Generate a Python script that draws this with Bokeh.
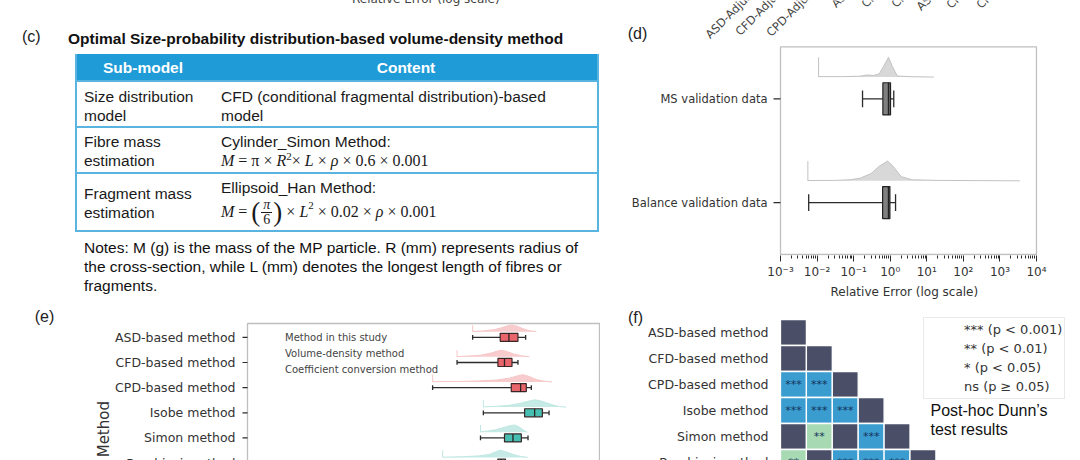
import math
from bokeh.plotting import figure
from bokeh.layouts import column, row
from bokeh.models import (Range1d, LogAxis, FixedTicker, Div, BoxAnnotation, Title,
                          CustomJSTickFormatter, Label, Legend, LegendItem)
from bokeh.core.properties import value
from bokeh.embed import file_html
from bokeh.resources import INLINE

SANS = "DejaVu Sans"
ARIAL = "Liberation Sans"
SERIF = "Liberation Serif"

# ---------------- (c) table ----------------
table_title = "Optimal Size-probability distribution-based volume-density method"
table_header = ["Sub-model", "Content"]
submodel_lines = [["Size distribution", "model"], ["Fibre mass", "estimation"],
                  ["Fragment mass", "estimation"]]
content_lines = [["CFD (conditional fragmental distribution)-based", "model"],
                 ["Cylinder_Simon Method:"], ["Ellipsoid_Han Method:"]]
note_lines = ["Notes: M (g) is the mass of the MP particle. R (mm) represents radius of",
              "the cross-section, while L (mm) denotes the longest length of fibres or",
              "fragments."]

# ---------------- (d) validation ----------------
d_groups = ["Balance validation data", "MS validation data"]
d_whisk_lo = [0.0059, 0.175]
d_q1 = [0.62, 0.63]
d_median = [0.90, 0.90]
d_q3 = [0.98, 1.02]
d_whisk_hi = [1.40, 1.25]
bal_kde_x = [0.0056, 0.03, 0.08, 0.15, 0.30, 0.50, 0.85, 1.20, 2.00, 4.00, 20.0, 3500.0]
bal_kde_h = [0.003, 0.004, 0.01, 0.025, 0.07, 0.14, 0.19, 0.14, 0.04, 0.01, 0.004, 0.0]
ms_kde_x = [0.011, 0.05, 0.15, 0.23, 0.35, 0.50, 0.65, 0.90, 1.15, 1.56, 4.0, 15.6]
ms_kde_h = [0.004, 0.004, 0.008, 0.02, 0.015, 0.03, 0.10, 0.19, 0.10, 0.01, 0.003, 0.0]
top_tick_labels = ["ASD-Adjusted", "CFD-Adjusted", "CPD-Adjusted",
                   "ASD-Simon", "CFD-Simon", "CPD-Simon",
                   "ASD-based", "CFD-based", "CPD-based"]

# ---------------- (e) methods ----------------
e_methods = ["ASD-based method", "CFD-based method", "CPD-based method",
             "Isobe method", "Simon method", "Barchiesi method"]
e_group = ["study", "study", "study", "volume", "volume", "volume"]
e_whisk_lo = [0.30, 0.147, 0.048, 0.49, 0.43, 0.076]
e_q1 = [1.06, 0.955, 1.76, 3.24, 1.29, 0.95]
e_median = [1.58, 1.29, 2.70, 5.13, 1.90, 1.10]
e_q3 = [2.39, 1.82, 3.50, 7.31, 2.79, 1.35]
e_whisk_hi = [3.40, 2.39, 4.41, 9.93, 3.79, 2.40]
asd_kde_x = [0.30, 0.50, 0.80, 1.10, 1.40, 1.76, 2.30, 3.00, 4.00, 5.55]
asd_kde_h = [0.01, 0.03, 0.08, 0.15, 0.22, 0.26, 0.22, 0.12, 0.04, 0.0]
cfd_kde_x = [0.147, 0.25, 0.45, 0.70, 0.90, 1.11, 1.40, 1.90, 2.80, 4.02]
cfd_kde_h = [0.01, 0.03, 0.07, 0.15, 0.22, 0.26, 0.22, 0.12, 0.04, 0.0]
cpd_kde_x = [0.048, 0.15, 0.40, 0.90, 1.60, 2.30, 3.00, 4.00, 5.50, 8.00, 11.4]
cpd_kde_h = [0.01, 0.02, 0.04, 0.08, 0.15, 0.24, 0.29, 0.22, 0.10, 0.03, 0.0]
isobe_kde_x = [0.49, 0.90, 1.60, 2.50, 3.60, 5.10, 6.50, 8.50, 12.0, 16.0, 22.0]
isobe_kde_h = [0.01, 0.03, 0.07, 0.14, 0.22, 0.29, 0.26, 0.18, 0.08, 0.02, 0.0]
simon_kde_x = [0.43, 0.60, 0.85, 1.15, 1.50, 2.05, 2.50, 3.00, 3.66]
simon_kde_h = [0.02, 0.05, 0.10, 0.17, 0.24, 0.29, 0.22, 0.10, 0.0]
barchiesi_kde_x = [0.076, 0.20, 0.40, 0.65, 0.85, 1.06, 1.40, 1.90, 2.70, 3.79]
barchiesi_kde_h = [0.01, 0.03, 0.06, 0.12, 0.22, 0.29, 0.22, 0.12, 0.04, 0.0]
e_kde_x = [asd_kde_x, cfd_kde_x, cpd_kde_x, isobe_kde_x, simon_kde_x, barchiesi_kde_x]
e_kde_h = [asd_kde_h, cfd_kde_h, cpd_kde_h, isobe_kde_h, simon_kde_h, barchiesi_kde_h]
e_legend = ["Method in this study", "Volume-density method", "Coefficient conversion method"]

# ---------------- (f) Dunn's test ----------------
dunn_sig = [
    ["ns"],
    ["ns", "ns"],
    ["***", "***", "ns"],
    ["***", "***", "***", "ns"],
    ["ns", "**", "ns", "***", "ns"],
    ["**", "ns", "***", "***", "***", "ns"],
]
sig_levels = ["***", "**", "*", "ns"]
sig_labels = ["*** (p < 0.001)", "** (p < 0.01)", "* (p < 0.05)", "ns (p \u2265 0.05)"]

# colours
HEAD_BLUE = "#1f9bd7"
LINE_BLUE = "#5ab4e0"
BOX_FILL = {"study": "#e8656b", "volume": "#46beb1"}
KDE_FILL = {"study": "#f7c7c8", "volume": "#c0e8e2"}
LEG_COLORS = ["#e8656b", "#46beb1", "#f6cc6b"]
SIG_COLORS = {"***": "#3b9cd0", "**": "#a7dab3", "*": "#daefdb", "ns": "#4a4f67"}
INK = "#333333"
EDGE = "#2b2b2b"

PAGE_W, PAGE_H = 1080, 460
LEFT_W, TOP_H = 600, 300


def frame_label(p, origin, x, y, text, size, font=ARIAL, color="#222222", **kw):
    # x, y in page pixels; origin is the frame's bottom-left corner on the page
    p.add_layout(Label(x=x - origin[0], y=origin[1] - y, x_units="screen",
                       y_units="screen", text=text, text_font=font,
                       text_font_size=size, text_color=color, **kw))


# ================= panel (c): table as HTML =================
def abs_div(left, top, inner, style=""):
    return (f'<div style="position:absolute;left:{left}px;top:{top}px;'
            f'white-space:nowrap;{style}">{inner}</div>')


parts = []
parts.append(abs_div(352, -10, "Relative Error (log scale)",
                     f"font-family:'{SANS}';font-size:12px;line-height:19px;color:#444"))
parts.append(abs_div(22, 26.5, "(c)", "font-size:16px;line-height:19px;color:#222"))
parts.append(abs_div(68, 28.5, table_title,
                     "font-size:15.5px;line-height:19px;font-weight:bold;color:#111"))
parts.append(f'<div style="position:absolute;left:75px;top:54px;width:524px;height:27px;'
             f'background:{HEAD_BLUE}"></div>')
parts.append(abs_div(75, 58, table_header[0],
                     "width:136px;text-align:center;font-weight:bold;color:white;"
                     "font-size:15.5px;line-height:19px"))
parts.append(abs_div(211, 58, table_header[1],
                     "width:390px;text-align:center;font-weight:bold;color:white;"
                     "font-size:15.5px;line-height:19px"))
for y in [81, 127, 173, 231]:
    parts.append(f'<div style="position:absolute;left:75px;top:{y - 1}px;width:524px;'
                 f'height:2px;background:{LINE_BLUE}"></div>')
for x in [75, 597]:
    parts.append(f'<div style="position:absolute;left:{x}px;top:54px;width:2px;'
                 f'height:178px;background:{LINE_BLUE}"></div>')
for top, lines in zip([86.5, 131.5, 183.5], submodel_lines):
    parts.append(abs_div(84, top, "<br>".join(lines), "font-size:15.5px;line-height:19px"))
for top, lines in zip([86.5, 131.5, 177.5], content_lines):
    parts.append(abs_div(221, top, "<br>".join(lines), "font-size:15.5px;line-height:19px"))
sup = '<sup style="font-size:11px;line-height:0;vertical-align:6px">2</sup>'
formula1 = (f"<i>M</i> = \u03c0 \u00d7 <i>R</i>{sup}\u00d7 <i>L</i> \u00d7 <i>\u03c1</i>"
            " \u00d7 0.6 \u00d7 0.001")
parts.append(abs_div(221, 150.5, formula1,
                     f"font-family:'{SERIF}';font-size:16px;line-height:19px"))
frac = ('<span style="display:inline-flex;flex-direction:column;align-items:center;'
        'font-size:14px;line-height:14px;margin:0 1px"><i>\u03c0</i>'
        '<span style="border-top:1px solid #1a1a1a;padding:0 2px">6</span></span>')
paren = '<span style="font-size:27px;line-height:27px">{}</span>'
sup2 = '<span style="font-size:11px;position:relative;top:-6px">2</span>'
formula2 = (f"<i>M</i>&nbsp;=&nbsp;{paren.format('(')}{frac}{paren.format(')')}"
            f"&nbsp;\u00d7&nbsp;<i>L</i>{sup2}&nbsp;\u00d7 0.02 \u00d7&nbsp;<i>\u03c1</i>"
            "&nbsp;\u00d7 0.001")
parts.append(abs_div(221, 194, formula2,
                     f"font-family:'{SERIF}';font-size:16px;height:36px;display:flex;"
                     "align-items:center"))
parts.append(abs_div(84, 237.5, "<br>".join(note_lines),
                     "font-size:15.5px;line-height:19.3px;color:#111"))

pc = Div(text=(f"<div style=\"position:relative;width:{LEFT_W}px;height:{TOP_H}px;"
               f"overflow:hidden;font-family:'{ARIAL}';color:#1a1a1a\">"
               + "".join(parts) + "</div>"),
         width=LEFT_W, height=TOP_H, margin=0)

# ================= panel (d) =================
# plot box spans 1e-3..1e4 over 256 px; the frame reaches to the panel's left/top edge
D_DEC = 256 / 7
pd_ = figure(width=PAGE_W - LEFT_W, height=TOP_H, x_axis_type="log",
             x_range=Range1d(10 ** (-3 - 180 / D_DEC), 10 ** (4 + 1 / D_DEC)),
             y_range=Range1d(-1 / 105, 257 / 105), x_axis_location=None,
             y_axis_location=None, toolbar_location=None, output_backend="svg",
             min_border_left=0, min_border_right=PAGE_W - 1037, min_border_top=0,
             min_border_bottom=42, outline_line_color=None)
pd_.grid.visible = False
d_origin = (600, 258)

log_fmt = CustomJSTickFormatter(code="""
const sup = {"-": "\u207b", "0": "\u2070", "1": "\u00b9", "2": "\u00b2", "3": "\u00b3",
             "4": "\u2074", "5": "\u2075", "6": "\u2076", "7": "\u2077", "8": "\u2078",
             "9": "\u2079"};
const e = Math.round(Math.log10(tick));
return "10" + String(e).split("").map(c => sup[c]).join("");
""")
xax = LogAxis(ticker=FixedTicker(ticks=[10.0 ** e for e in range(-3, 5)],
                                 minor_ticks=[m * 10.0 ** e for e in range(-3, 4)
                                              for m in range(2, 10)]),
              formatter=log_fmt, major_label_text_font=SANS,
              major_label_text_font_size="12px", major_label_text_color=INK,
              major_label_standoff=3, major_tick_out=6, major_tick_in=0,
              minor_tick_out=3, minor_tick_in=0, axis_line_color=None,
              major_tick_line_color=EDGE, minor_tick_line_color=EDGE)
pd_.add_layout(xax, "below")
# axis title centred under the plot box rather than under the whole frame
pd_.add_layout(Title(text="Relative Error (log scale)", align="left", offset=230,
                     standoff=3, text_font=SANS, text_font_size="12px",
                     text_font_style="normal", text_color=INK), "below")
pd_.add_layout(BoxAnnotation(left=1e-3, right=1e4, bottom=0, top=2, fill_color=None,
                             line_color=EDGE, line_width=1.3))

d_y = [0.5, 1.5]
pd_.ray(x=[1e-3] * 2, y=d_y, length=7, length_units="screen", angle=math.pi,
        line_color=EDGE, line_width=1.2)
pd_.text(x=[1e-3] * 2, y=d_y, text=d_groups, x_offset=-13, text_align="right",
         text_baseline="middle", text_font=value(SANS), text_font_size="11.5px",
         text_color=INK)

for i, (kx, kh) in enumerate([(bal_kde_x, bal_kde_h), (ms_kde_x, ms_kde_h)]):
    base = i + 0.5 + 0.21
    top = [base + h for h in kh]
    pd_.varea(x=kx, y1=[base] * len(kx), y2=top, fill_color="#d6d6d6", fill_alpha=0.95)
    pd_.line(x=kx, y=top, line_color="#c2c2c2", line_width=1)
    pd_.segment(x0=[kx[0]], y0=[base], x1=[kx[0]], y1=[base + max(kh)],
                line_color="#c2c2c2", line_width=1)

pd_.segment(x0=d_whisk_lo, y0=d_y, x1=d_q1, y1=d_y, line_color=EDGE, line_width=1.3)
pd_.segment(x0=d_q3, y0=d_y, x1=d_whisk_hi, y1=d_y, line_color=EDGE, line_width=1.3)
for xs in (d_whisk_lo, d_whisk_hi):
    pd_.segment(x0=xs, y0=[y - 0.08 for y in d_y], x1=xs, y1=[y + 0.08 for y in d_y],
                line_color=EDGE, line_width=1.3)
pd_.hbar(y=d_y, left=d_q1, right=d_q3, height=0.31, fill_color="#808080",
         line_color="#222222", line_width=1.2)
pd_.segment(x0=d_median, y0=[y - 0.155 for y in d_y], x1=d_median,
            y1=[y + 0.155 for y in d_y], line_color="#222222", line_width=1.5)

frame_label(pd_, d_origin, 637, 36, "(d)", "16px", text_align="center",
            text_baseline="middle")
for t, (lx, ly) in zip(top_tick_labels, [(707, 39), (737, 36), (768, 37),
                                         (833, 8), (863, 8), (893, 8),
                                         (918, 11), (948, 9), (978, 9)]):
    frame_label(pd_, d_origin, lx, ly, t, "11.5px", font=SANS, color="#444444",
                angle=math.pi / 4, text_align="left", text_baseline="alphabetic")

# ================= panel (e) =================
# plot box spans 1e-5..1e2 over 352 px; rows are 25.15 px apart, box top at page y 323
E_DEC = 352 / 7
E_ROW = 25.15
BOT_H = PAGE_H - TOP_H
pe = figure(width=LEFT_W, height=BOT_H, x_axis_type="log",
            x_range=Range1d(10 ** (-5 - 247 / E_DEC), 10 ** (2 + 1 / E_DEC)),
            y_range=Range1d(-0.55 + (PAGE_H - 323) / E_ROW, -0.55 - 23 / E_ROW),
            x_axis_location=None, y_axis_location=None, toolbar_location=None,
            output_backend="svg", min_border=0, outline_line_color=None)
pe.grid.visible = False
e_origin = (0, PAGE_H)
pe.add_layout(BoxAnnotation(left=1e-5, right=1e2, top=-0.55, bottom=20, fill_color=None,
                            line_color=EDGE, line_width=1.3))

e_y = list(range(len(e_methods)))
pe.ray(x=[1e-5] * len(e_y), y=e_y, length=5, length_units="screen", angle=math.pi,
       line_color=EDGE, line_width=1.2)
pe.text(x=[1e-5] * len(e_y), y=e_y, text=e_methods, x_offset=-12, text_align="right",
        text_baseline="middle", text_font=value(SANS), text_font_size="12.5px",
        text_color=INK)

for i, (kx, kh) in enumerate(zip(e_kde_x, e_kde_h)):
    base = i - 0.225
    top = [base - h for h in kh]
    pe.varea(x=kx, y1=[base] * len(kx), y2=top, fill_color=KDE_FILL[e_group[i]],
             fill_alpha=0.9)
    pe.line(x=kx, y=top, line_color=KDE_FILL[e_group[i]], line_width=1)
    pe.segment(x0=[kx[0]], y0=[base], x1=[kx[0]], y1=[base - max(kh)],
               line_color=KDE_FILL[e_group[i]], line_width=1)

pe.segment(x0=e_whisk_lo, y0=e_y, x1=e_q1, y1=e_y, line_color=EDGE, line_width=1.3)
pe.segment(x0=e_q3, y0=e_y, x1=e_whisk_hi, y1=e_y, line_color=EDGE, line_width=1.3)
for xs in (e_whisk_lo, e_whisk_hi):
    pe.segment(x0=xs, y0=[y - 0.095 for y in e_y], x1=xs, y1=[y + 0.095 for y in e_y],
               line_color=EDGE, line_width=1.3)
pe.hbar(y=e_y, left=e_q1, right=e_q3, height=0.32,
        fill_color=[BOX_FILL[g] for g in e_group], line_color="#3a2626", line_width=1.2)
pe.segment(x0=e_median, y0=[y - 0.16 for y in e_y], x1=e_median,
           y1=[y + 0.16 for y in e_y], line_color="#2b2222", line_width=1.3)

e_items = []
for lab, col in zip(e_legend, LEG_COLORS):
    r = pe.hbar(y=[], left=[], right=[], height=0.3, fill_color=col, line_color=None)
    e_items.append(LegendItem(label=lab, renderers=[r]))
pe.add_layout(Legend(items=e_items, location=(254, PAGE_H - 377), padding=0, spacing=0,
                     margin=0, label_height=16, glyph_height=6, glyph_width=24,
                     label_standoff=7, label_text_font=SANS, label_text_font_size="10px",
                     label_text_color="#444444", border_line_color=None,
                     background_fill_alpha=0))

frame_label(pe, e_origin, 44, 316, "(e)", "16px", text_align="center",
            text_baseline="middle")
frame_label(pe, e_origin, 103.5, 471, "Estimation Method", "15px", font=SANS, color=INK,
            angle=math.pi / 2, text_align="center", text_baseline="alphabetic")

# ================= panel (f) =================
# heat-map cells are 25.9 x 26 px, first cell at page (780, 319)
pf = figure(width=PAGE_W - LEFT_W, height=BOT_H,
            x_range=Range1d(-180 / 25.9, (PAGE_W - 780) / 25.9),
            y_range=Range1d((PAGE_H - 319) / 26.0, -19 / 26.0), x_axis_location=None,
            y_axis_location=None, toolbar_location=None, output_backend="svg",
            min_border=0, outline_line_color=None)
pf.grid.visible = False
f_origin = (600, PAGE_H)

f_y = [i + 0.5 for i in range(len(e_methods))]
pf.text(x=[0] * len(f_y), y=f_y, text=e_methods, x_offset=-12, text_align="right",
        text_baseline="middle", text_font=value(SANS), text_font_size="12.5px",
        text_color=INK)

cx, cy, cc, ct = [], [], [], []
for r_i, sig_row in enumerate(dunn_sig):
    for c_i, s in enumerate(sig_row):
        cx.append(c_i + 0.5)
        cy.append(r_i + 0.5)
        cc.append(SIG_COLORS[s])
        ct.append("" if s == "ns" else s)
pf.rect(x=cx, y=cy, width=1, height=1, fill_color=cc, line_color="white", line_width=1.3)
pf.text(x=cx, y=cy, text=ct, text_font=value(SANS), text_font_size="11px",
        text_align="center", text_baseline="middle", text_color="#15325a")

f_items = []
for s, lab in zip(sig_levels, sig_labels):
    r = pf.rect(x=[], y=[], width=1, height=1, fill_color=SIG_COLORS[s], line_color=None)
    f_items.append(LegendItem(label=lab, renderers=[r]))
pf.add_layout(Legend(items=f_items, location=(323, PAGE_H - 399), padding=2, spacing=0,
                     margin=0, label_height=19, glyph_height=9, glyph_width=28,
                     label_standoff=10, label_text_font=SANS, label_text_font_size="13px",
                     label_text_color="#333333", border_line_color="#d4d4d4",
                     border_line_width=1, background_fill_color="white",
                     background_fill_alpha=0.85))

frame_label(pf, f_origin, 635, 317, "(f)", "16px", text_align="center",
            text_baseline="middle")
frame_label(pf, f_origin, 930, 410, "Post-hoc Dunn\u2019s", "16px", color="#111111",
            text_baseline="middle")
frame_label(pf, f_origin, 930, 429, "test results", "16px", color="#111111",
            text_baseline="middle")

layout = column(row(pc, pd_), row(pe, pf))
open("out.html", "w").write(file_html(layout, INLINE))
